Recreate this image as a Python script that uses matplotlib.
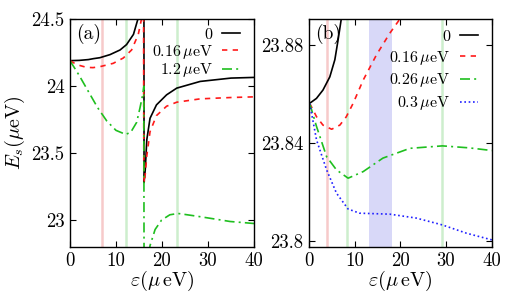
import matplotlib
matplotlib.use("Agg")
import matplotlib.pyplot as plt

plt.rcParams['font.family'] = ['cmr10', 'DejaVu Serif']
plt.rcParams['mathtext.fontset'] = 'cm'
plt.rcParams['axes.formatter.use_mathtext'] = True

# ---------------- Panel (a) data ----------------
a_black_l_x = [0, 2, 4, 5.1, 6.5, 8.7, 10.9, 12.3, 13.8, 14.85, 15.3]
a_black_l_y = [24.19, 24.192, 24.198, 24.205, 24.212, 24.235, 24.27, 24.31, 24.386, 24.51, 24.6]
a_black_r_x = [16.08, 16.1, 16.37, 16.7, 17.4, 18.8, 21, 23.2, 28.3, 35, 40]
a_black_r_y = [24.6, 23.28, 23.38, 23.6, 23.76, 23.86, 23.935, 23.985, 24.035, 24.06, 24.065]

a_red_l_x = [0, 1.5, 3.6, 5, 6.5, 9.4, 11.6, 13.4, 14.85, 15.6, 15.8]
a_red_l_y = [24.19, 24.16, 24.14, 24.138, 24.145, 24.17, 24.21, 24.27, 24.386, 24.51, 24.6]
a_red_r_x = [16.0, 16.05, 16.2, 16.7, 17.4, 18.8, 21, 23.2, 28.3, 35, 40]
a_red_r_y = [24.6, 23.32, 23.28, 23.48, 23.66, 23.78, 23.85, 23.88, 23.905, 23.915, 23.92]

a_green_l_x = [0, 2, 4, 6, 8, 10, 12.1, 13.2, 14.5, 15.2, 15.8, 16.05, 16.1]
a_green_l_y = [24.19, 24.08, 23.96, 23.84, 23.74, 23.67, 23.64, 23.655, 23.73, 23.835, 23.935, 24.0, 22.7]
a_green_r_x = [17.2, 17.4, 18.5, 19.9, 21.7, 23.5, 27.5, 31.2, 34.8, 40]
a_green_r_y = [22.75, 22.81, 22.93, 23.0, 23.04, 23.05, 23.03, 23.01, 22.99, 22.975]

a_vlines_x = [7.0, 12.1, 23.2]
a_vlines_c = ['#f7caca', '#cdeecd', '#cdeecd']

# ---------------- Panel (b) data ----------------
b_black_x = [0.2, 1.68, 3.1, 4.6, 5.7, 6.4, 7.1, 7.4]
b_black_y = [23.8562, 23.8582, 23.8616, 23.867, 23.874, 23.882, 23.8906, 23.894]

b_red_x = [0.2, 1.7, 3.1, 5.0, 6.8, 8.2, 9.7, 11.9, 14.8, 17.7, 19.9, 20.3]
b_red_y = [23.8562, 23.8507, 23.8473, 23.8456, 23.8473, 23.8507, 23.8562, 23.8657, 23.876, 23.8848, 23.8906, 23.892]

b_green_x = [0.2, 1.7, 3.9, 6.05, 8.6, 11.9, 16.2, 22.1, 29.2, 35, 40]
b_green_y = [23.8562, 23.8467, 23.8344, 23.829, 23.8256, 23.8283, 23.8338, 23.8378, 23.8388, 23.838, 23.8369]

b_blue_x = [0.2, 1.7, 3.9, 6.05, 8.6, 11.1, 17.7, 23.5, 29.2, 34.5, 40]
b_blue_y = [23.8562, 23.8412, 23.829, 23.8195, 23.813, 23.8113, 23.8109, 23.8093, 23.8065, 23.8031, 23.8004]

b_vlines_x = [4.0, 8.45, 29.2]
b_vlines_c = ['#f7caca', '#cdeecd', '#cdeecd']
b_band = [13.2, 18.1]

labels_a = ['0', r'0.16$\,\mu$eV', r'1.2$\,\mu$eV']
labels_b = ['0', r'0.16$\,\mu$eV', r'0.26$\,\mu$eV', r'0.3$\,\mu$eV']

xticks = [0, 10, 20, 30, 40]
a_yticks = [23, 23.5, 24, 24.5]
a_yticklabels = ['23', '23.5', '24', '24.5']
b_yticks = [23.8, 23.84, 23.88]
b_yticklabels = ['23.8', '23.84', '23.88']

fig = plt.figure(figsize=(5.07, 2.94), dpi=100)
axa = fig.add_axes([0.138, 0.160, 0.363, 0.775])
axb = fig.add_axes([0.609, 0.160, 0.361, 0.775])

lw = 1.2
dash = (0, (3.2, 3.2))
dashdot = (0, (6, 2.5, 1.2, 2.5))
for x, c in zip(a_vlines_x, a_vlines_c):
    axa.axvline(x, color=c, lw=1.8, zorder=0)
la1, = axa.plot(a_black_l_x, a_black_l_y, color='black', lw=lw, label=labels_a[0])
axa.plot(a_black_r_x, a_black_r_y, color='black', lw=lw)
la2, = axa.plot(a_red_l_x, a_red_l_y, color='#ff1a1a', lw=lw, ls=dash, label=labels_a[1])
axa.plot(a_red_r_x, a_red_r_y, color='#ff1a1a', lw=lw, ls=dash)
la3, = axa.plot(a_green_l_x, a_green_l_y, color='#1fbf1f', lw=lw, ls=dashdot, label=labels_a[2])
axa.plot(a_green_r_x, a_green_r_y, color='#1fbf1f', lw=lw, ls=dashdot)
axa.set_xlim(0, 40)
axa.set_ylim(22.8, 24.5)
axa.set_xticks(xticks)
axa.set_xticklabels([str(t) for t in xticks])
axa.set_yticks(a_yticks)
axa.set_yticklabels(a_yticklabels)
axa.set_xlabel(r'$\varepsilon(\mu\,\mathrm{eV})$', fontsize=14.5, labelpad=-1)
axa.set_ylabel(r'$E_s(\mu\mathrm{eV})$', fontsize=14.5, labelpad=3)
axa.text(0.033, 0.978, '(a)', transform=axa.transAxes, fontsize=14, va='top', ha='left')
axa.legend(handles=[la1, la2, la3], loc='upper right', frameon=False, markerfirst=False,
           fontsize=11.5, handlelength=1.1, handletextpad=0.6, labelspacing=0.05,
           borderaxespad=0, borderpad=0, bbox_to_anchor=(0.924, 0.963))

axb.axvspan(b_band[0], b_band[1], color='#d8d8f8', lw=0, zorder=0)
for x, c in zip(b_vlines_x, b_vlines_c):
    axb.axvline(x, color=c, lw=1.8, zorder=0)
lb1, = axb.plot(b_black_x, b_black_y, color='black', lw=lw, label=labels_b[0])
lb2, = axb.plot(b_red_x, b_red_y, color='#ff1a1a', lw=lw, ls=dash, label=labels_b[1])
lb3, = axb.plot(b_green_x, b_green_y, color='#1fbf1f', lw=lw, ls=dashdot, label=labels_b[2])
lb4, = axb.plot(b_blue_x, b_blue_y, color='#2020ff', lw=lw, ls=(0, (1, 1.6)), label=labels_b[3])
axb.set_xlim(0, 40)
axb.set_ylim(23.7975, 23.8906)
axb.set_xticks(xticks)
axb.set_xticklabels([str(t) for t in xticks])
axb.set_yticks(b_yticks)
axb.set_yticklabels(b_yticklabels)
axb.set_xlabel(r'$\varepsilon(\mu\,\mathrm{eV})$', fontsize=14.5, labelpad=-1)
axb.text(0.033, 0.978, '(b)', transform=axb.transAxes, fontsize=14, va='top', ha='left')
axb.legend(handles=[lb1, lb2, lb3, lb4], loc='upper right', frameon=False, markerfirst=False,
           fontsize=11.5, handlelength=1.1, handletextpad=0.6, labelspacing=0.3,
           borderaxespad=0, borderpad=0, bbox_to_anchor=(0.923, 0.954))

for ax in (axa, axb):
    ax.tick_params(direction='in', top=True, right=True, length=4, width=0.8,
                   labelsize=13.5, pad=4)
    for s in ax.spines.values():
        s.set_linewidth(1.0)

fig.savefig('out.png', dpi=100)
